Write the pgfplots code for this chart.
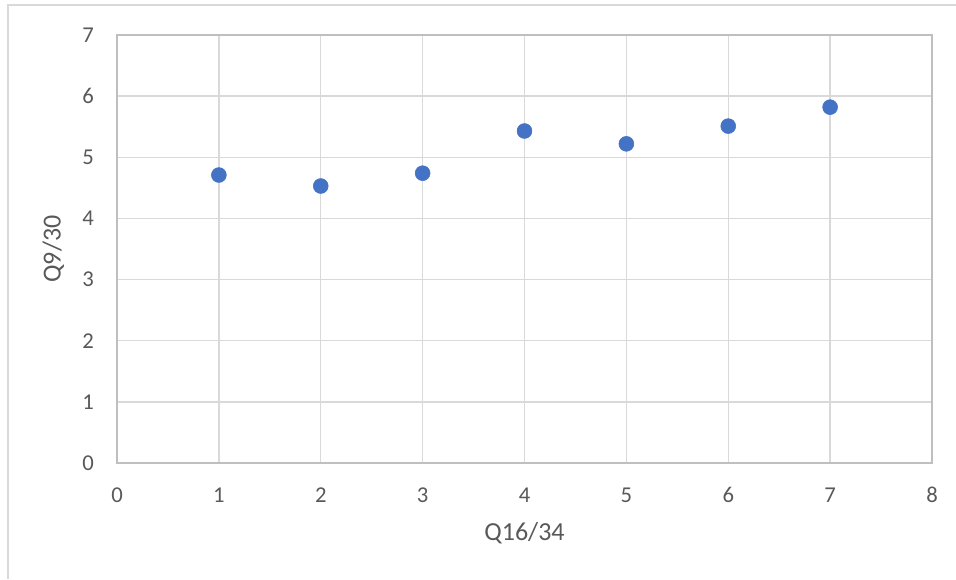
\documentclass[border=0pt]{standalone}
\usepackage{pgfplots}
\pgfplotsset{compat=1.18}
\usepackage{fontspec}
\setmainfont{Carlito}
\definecolor{gridc}{HTML}{D9D9D9}
\definecolor{axisc}{HTML}{BFBFBF}
\definecolor{textc}{HTML}{595959}
\definecolor{dotc}{HTML}{4472C4}
\begin{document}
\begin{tikzpicture}
\useasboundingbox (0,0) rectangle (717pt,434.25pt);
\draw[gridc, line width=1.2pt] (6pt,0) -- (6pt,430.5pt) -- (717pt,430.5pt);
\begin{axis}[
  scale only axis,
  width=611.25pt, height=321pt,
  at={(87.75pt,87pt)}, anchor=south west,
  xmin=0, xmax=8, ymin=0, ymax=7,
  xtick={0,...,8}, ytick={0,...,7},
  grid=major,
  major grid style={gridc, line width=1pt},
  axis line style={axisc, line width=1pt},
  major tick length=0pt,
  tick label style={font=\fontsize{17}{19}\selectfont, text=textc},
  /pgf/number format/assume math mode=true,
  xticklabel style={anchor=center, yshift=-24pt},
  yticklabel style={anchor=center, xshift=-21.75pt},
  label style={font=\fontsize{19.5}{22}\selectfont, text=textc},
  xlabel={Q16/34},
  ylabel={Q9/30},
  xlabel style={at={(axis description cs:0.5,-0.1636)}, anchor=center},
  ylabel style={at={(axis description cs:-0.078,0.5)}, anchor=center},
  clip=false,
]
\addplot[only marks, mark=*, mark size=5.6pt, mark options={fill=dotc, draw=dotc}]
coordinates {
(1,4.71) (2,4.53) (3,4.74) (4,5.43) (5,5.22) (6,5.51) (7,5.82)
};
\end{axis}
\end{tikzpicture}
\end{document}
